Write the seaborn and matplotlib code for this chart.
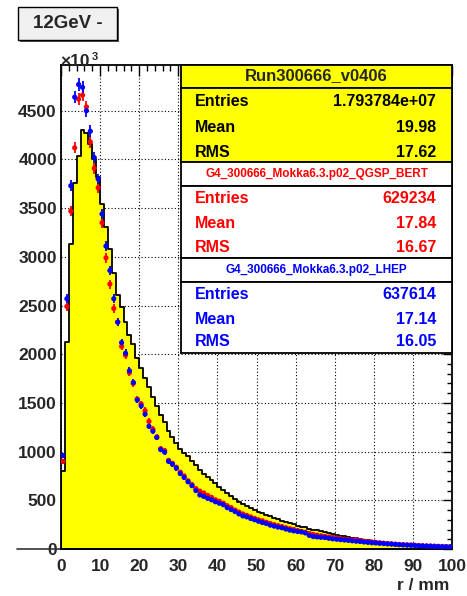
import numpy as np
import pandas as pd
import matplotlib
matplotlib.use("Agg")
import matplotlib.pyplot as plt
import seaborn as sns
from matplotlib.patches import Rectangle
from matplotlib.ticker import MultipleLocator

# radial distribution r / mm, 1 mm bins from 0 to 100
bin_edges = np.arange(0, 101, 1)
bin_centers = bin_edges[:-1] + 0.5

data_counts = [800, 2130, 3130, 3760, 4040, 4300, 4270, 4160, 4000, 3816,
               3544, 3306, 3085, 2830, 2612, 2480, 2330, 2200, 2100, 1960,
               1860, 1760, 1660, 1560, 1470, 1380, 1300, 1210, 1150, 1090,
               1030, 990, 950, 905, 860, 810, 770, 735, 705, 680,
               635, 610, 570, 545, 510, 485, 460, 440, 418, 400,
               385, 365, 350, 335, 320, 305, 292, 280, 266, 255,
               240, 230, 222, 210, 200, 190, 180, 170, 160, 153,
               146, 138, 130, 122, 115, 108, 100, 94, 88, 80,
               72, 66, 60, 55, 50, 45, 42, 38, 34, 32,
               29, 27, 25, 23, 21, 19, 18, 16, 15, 14]

qgsp_bert = [900, 2490, 3470, 4120, 4620, 4660, 4540, 4180, 3910, 3710,
             3350, 2990, 2720, 2470, 2330, 2080, 1990, 1810, 1700, 1540,
             1490, 1420, 1310, 1230, 1150, 1030, 1010, 910, 880, 840,
             790, 750, 700, 660, 620, 595, 575, 550, 530, 505,
             490, 470, 445, 425, 400, 380, 360, 345, 330, 315,
             300, 290, 275, 262, 250, 240, 230, 218, 208, 200,
             190, 180, 172, 160, 150, 142, 136, 130, 124, 118,
             112, 106, 100, 96, 92, 97, 85, 80, 76, 72,
             68, 64, 60, 57, 54, 50, 47, 45, 43, 41,
             38, 36, 34, 32, 31, 29, 28, 26, 25, 24]

lhep = [960, 2570, 3730, 4640, 4770, 4740, 4500, 4290, 4020, 3800,
        3440, 3110, 2860, 2570, 2330, 2120, 2010, 1830, 1710, 1530,
        1470, 1385, 1260, 1210, 1145, 1020, 995, 900, 870, 830,
        775, 735, 690, 650, 600, 555, 540, 520, 505, 485,
        470, 455, 425, 405, 385, 360, 340, 330, 313, 300,
        285, 272, 262, 245, 235, 225, 218, 205, 194, 186,
        180, 175, 165, 140, 128, 124, 120, 118, 110, 104,
        100, 96, 92, 88, 84, 80, 77, 72, 68, 64,
        62, 58, 56, 52, 50, 47, 44, 42, 40, 38,
        35, 33, 31, 30, 28, 27, 25, 24, 23, 22]

stats_data = [("Entries", "1.793784e+07"), ("Mean", "19.98"), ("RMS", "17.62")]
stats_bert = [("Entries", "629234"), ("Mean", "17.84"), ("RMS", "16.67")]
stats_lhep = [("Entries", "637614"), ("Mean", "17.14"), ("RMS", "16.05")]

sns.set_theme(style="white")
plt.rcParams["font.family"] = ["Liberation Sans", "DejaVu Sans"]

W, H = 467, 596
fig = plt.figure(figsize=(W / 100, H / 100), dpi=100)
ax = fig.add_axes([61 / W, 1 - 549 / H, 391 / W, 484 / H])

df_data = pd.DataFrame({"r": bin_centers, "counts": data_counts})
sns.histplot(data=df_data, x="r", weights="counts", binwidth=1, binrange=(0, 100),
             element="step", fill=True, color="#ffff00", alpha=1, edgecolor="black",
             linewidth=1.3, ax=ax)

df_mc = pd.concat([
    pd.DataFrame({"r": bin_centers, "counts": qgsp_bert, "model": "QGSP_BERT"}),
    pd.DataFrame({"r": bin_centers, "counts": lhep, "model": "LHEP"}),
])
colors = {"QGSP_BERT": "#ff0000", "LHEP": "#0000ff"}
for name, grp in df_mc.groupby("model", sort=False):
    ax.errorbar(grp["r"], grp["counts"], xerr=0.5, yerr=0.9 * np.sqrt(grp["counts"]),
                fmt="none", ecolor=colors[name], elinewidth=1.3, capsize=0, zorder=3)
sns.scatterplot(data=df_mc, x="r", y="counts", hue="model", palette=colors, s=14,
                linewidth=0, legend=False, ax=ax, zorder=4)

ax.set_xlim(0, 100)
ax.set_ylim(0, 4970)
ax.set_xlabel("")
ax.set_ylabel("")
ax.xaxis.set_major_locator(MultipleLocator(10))
ax.xaxis.set_minor_locator(MultipleLocator(2))
ax.yaxis.set_major_locator(MultipleLocator(500))
ax.yaxis.set_minor_locator(MultipleLocator(100))
ax.grid(True, which="major", linestyle=(0, (1, 2)), color="black", linewidth=0.8)
ax.set_axisbelow(True)
ax.tick_params(which="both", direction="in", top=True, right=True, color="black",
               labelsize=12.5)
ax.tick_params(axis="x", which="major", length=8, width=1, pad=7)
ax.tick_params(axis="x", which="minor", length=4, width=1)
ax.tick_params(axis="y", which="major", length=6.5, width=1, pad=3)
ax.tick_params(axis="y", which="minor", length=3.5, width=1)
for lab in ax.get_xticklabels() + ax.get_yticklabels():
    lab.set_fontweight("bold")
for sp in ax.spines.values():
    sp.set_color("black")
    sp.set_linewidth(1.3)
ax.plot([-11.3, 0], [0, 0], color="#333333", lw=1.2, clip_on=False)


def fpos(x, y):
    return x / W, 1 - y / H


def box(x0, y0, x1, y1, face, lw=1.3, ec="black", z=5):
    fig.add_artist(Rectangle(fpos(x0, y1), (x1 - x0) / W, (y1 - y0) / H,
                             transform=fig.transFigure, facecolor=face,
                             edgecolor=ec, lw=lw, zorder=z))


def label(x, y, s, **kw):
    fig.text(*fpos(x, y), s, zorder=7, **kw)


# title box with shadow
box(20, 9, 119, 42, "#555555", lw=0, z=4)
box(18, 7, 117, 40, "#f0f0f0", lw=1.0)
label(67.5, 24, "12GeV -", ha="center", va="center", fontsize=13.5, fontweight="bold")

# axis multiplier
label(60, 69, "\u00d710", ha="left", va="bottom", fontsize=12.5, fontweight="bold")
label(92, 62, "3", ha="left", va="bottom", fontsize=8, fontweight="bold")

label(449, 585, "r / mm", ha="right", va="center", fontsize=12.5, fontweight="bold")

# stats box
bx0, bx1 = 181, 452
box(bx0, 65, bx1, 88, "#ffff00")
box(bx0, 88, bx1, 162, "#ffff00")
box(bx0, 162, bx1, 186, "white")
box(bx0, 186, bx1, 258, "white")
box(bx0, 258, bx1, 282, "white")
box(bx0, 282, bx1, 353, "white")

label((bx0 + bx1) / 2, 76, "Run300666_v0406", ha="center", va="center",
      fontsize=12, fontweight="bold")
label((bx0 + bx1) / 2, 174, "G4_300666_Mokka6.3.p02_QGSP_BERT", ha="center", va="center",
      fontsize=8.5, fontweight="bold", color="#ff0000")
label((bx0 + bx1) / 2, 270, "G4_300666_Mokka6.3.p02_LHEP", ha="center", va="center",
      fontsize=8.5, fontweight="bold", color="#0000ff")

for rows, ys, col in [(stats_data, [102, 127, 152], "black"),
                      (stats_bert, [199, 223, 247], "#ff0000"),
                      (stats_lhep, [295, 319, 342], "#0000ff")]:
    for (name, val), yy in zip(rows, ys):
        label(195, yy, name, ha="left", va="center", fontsize=11.5,
              fontweight="bold", color=col)
        label(436, yy, val, ha="right", va="center", fontsize=11.5,
              fontweight="bold", color=col)

fig.savefig("out.png", dpi=100, facecolor="white")
